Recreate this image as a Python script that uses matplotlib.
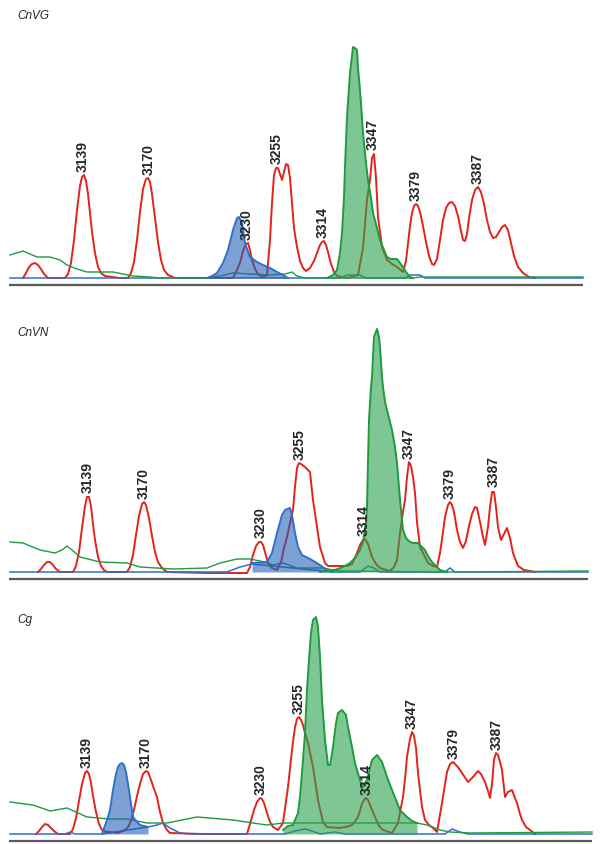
import numpy as np
import matplotlib
matplotlib.use("Agg")
import matplotlib.pyplot as plt

# ---------------- data (scan position, signal height) ----------------
allele_sizes = ["3139", "3170", "3230", "3255", "3314", "3347", "3379", "3387"]
panel_names = ["CnVG", "CnVN", "Cg"]

# ---- CnVG ----
cnvg_red = [(23,0),(26,5),(29,11),(32,14),(35,15),(38,13),(41,9),(44,4),(48,0),
    (65,0),(68,4),(71,15),(74,38),(77,68),(80,92),(82,101),(84,103),(86,97),(88,84),(90,65),(92,46),(95,25),(98,11),
    (101,5),(105,2),(112,1),(120,0),
    (128,0),(131,5),(134,16),(137,38),(140,66),(143,89),(146,99),(148,100),(150,96),(152,84),(155,60),(158,36),(161,18),
    (164,8),(168,3),(175,0),
    (205,0),(233,0),(237,8),(240,15),(243,27),(246,34),(248,35),(250,28),(252,18),(255,9),(258,4),(262,1),(267,3),
    (270,38),(272,75),(274,103),(276,110),(278,110),(280,104),(282,98),(284,106),(286,114),(288,113),(290,100),(292,75),
    (294,50),(297,31),(300,17),(303,10),(306,7),(310,10),(314,17),(317,25),(320,33),(322,36),(324,37),(326,33),(328,26),
    (331,14),(334,6),(337,2),(347,0),(358,3),(363,30),(367,78),(370,98),(372,120),(374,124),(376,100),(378,61),(382,31),
    (387,18),(392,14),(397,11),(403,6),(406,17),(408,35),(410,52),(412,65),(414,72),(416,74),(418,72),(420,66),(423,52),
    (426,36),(429,22),(432,14),(434,13),(437,19),(440,38),(443,58),(446,70),(449,75),(452,76),(455,72),(458,62),(461,47),
    (463,38),(465,37),(467,44),(469,60),(472,78),(475,88),(478,91),(481,86),(484,74),(487,58),(490,46),(493,40),(496,41),
    (499,46),(502,51),(505,53),(508,48),(511,35),(514,22),(518,11),(523,5),(529,1),(535,0)]
cnvg_blue_peak = [(207,0),(212,2),(217,5),(220,10),(223,15),(228,28),(233,48),(237,60),(239,61),(242,55),(245,35),
    (250,21),(257,16),(263,13),(270,10),(277,6),(283,3),(288,0)]
cnvg_green_peak = [(327,0),(333,3),(337,8),(340,25),(342,45),(344,80),(345,111),(347,161),(349,190),(350,205),(352,222),
    (353,231),(355,230),(357,228),(358,210),(360,188),(362,160),(363,145),(366,115),(368,98),(371,80),(373,65),(377,50),
    (380,38),(384,28),(387,21),(391,19),(397,19),(400,15),(403,11),(406,6),(410,1),(413,0)]
cnvg_green_line = [(10,23),(23,27),(37,21),(50,21),(60,18),(67,13),(77,9),(87,6),(100,6),(113,6),(123,4),(133,2),
    (150,1),(160,0),(205,0),(220,2),(233,5),(250,4),(270,3),(285,4),(292,6),(297,2),(305,0),(327,0),(413,0),(420,1),
    (583,1)]
cnvg_blue_line = [(10,0),(340,0),(347,3),(360,3),(366,0),(405,0),(410,3),(420,3),(425,0),(583,0)]
cnvg_label_x = [83, 149, 247, 277, 323, 373, 416, 478]
cnvg_label_h = [103, 100, 35, 111, 37, 125, 74, 91]

# ---- CnVN ----
cnvn_red = [(38,0),(41,3),(44,7),(47,10),(50,10),(53,7),(56,3),(60,0),
    (73,0),(76,6),(79,20),(82,44),(85,66),(87,75),(89,75),(91,66),(93,48),(95,32),(98,15),(101,6),(104,2),(107,0),
    (127,0),(130,5),(133,17),(136,37),(139,56),(142,68),(144,70),(146,67),(149,54),(152,36),(155,20),(158,10),(162,4),
    (167,0),
    (207,-1),(247,-1),(250,5),(253,17),(256,26),(259,30),(261,30),(263,27),(265,20),(268,9),(272,4),(277,2),(281,10),
    (284,24),(287,35),(290,49),(293,62),(295,85),(297,104),(299,109),(301,108),(305,105),(310,100),(313,72),(317,45),
    (320,25),(325,9),(328,6),(347,6),(352,8),(357,19),(360,27),(363,32),(365,33),(368,28),(372,15),(376,8),(380,4),
    (390,1),(394,5),(397,12),(400,39),(403,60),(405,72),(407,95),(409,110),(411,106),(413,95),(415,79),(417,50),(420,25),
    (423,19),(428,9),(433,6),(437,5),(440,19),(443,40),(445,55),(448,67),(450,70),(452,67),(454,60),(457,42),(460,30),
    (463,24),(466,31),(469,46),(472,58),(475,65),(477,64),(480,50),(483,35),(485,27),(488,45),(490,65),(492,80),(494,80),
    (496,65),(498,45),(501,32),(504,38),(507,44),(510,34),(513,19),(518,6),(524,2),(530,1),(535,0)]
cnvn_blue_peak = [(252,9),(267,10),(272,19),(277,39),(282,57),(285,62),(290,64),(292,57),(295,39),(298,25),(302,17),
    (310,13),(317,9),(327,2),(333,0)]
cnvn_green_peak = [(320,0),(335,2),(343,5),(350,9),(355,14),(360,22),(363,30),(366,50),(367,65),(368,110),(369,152),
    (371,185),(372,195),(374,235),(377,243),(379,235),(380,225),(382,195),(383,185),(385,170),(387,162),(390,150),
    (392,142),(395,125),(397,109),(400,72),(403,42),(406,34),(410,30),(414,29),(418,29),(422,25),(425,22),(428,16),
    (432,10),(436,6),(440,2),(447,0)]
cnvn_green_line = [(10,30),(23,29),(40,22),(55,19),(62,22),(67,26),(72,22),(80,15),(100,10),(127,9),(140,5),(173,3),
    (207,4),(220,9),(237,13),(250,13),(260,11),(267,9),(273,7),(283,9),(297,4),(323,4),(333,2),(345,1),(447,0),(460,0),
    (588,1)]
cnvn_blue_line = [(10,0),(227,0),(240,5),(252,8),(333,0),(360,0),(368,6),(374,4),(380,0),(445,0),(450,4),(455,0),(588,0)]
cnvn_label_x = [88, 144, 261, 300, 364, 409, 450, 494]
cnvn_label_h = [76, 70, 31, 109, 33, 110, 70, 82]

# ---- Cg ----
cg_red = [(36,0),(39,3),(42,7),(45,10),(48,9),(51,6),(54,3),(58,0),
    (70,0),(73,5),(76,16),(79,33),(82,50),(85,61),(87,63),(89,60),(91,51),(93,38),(96,22),(99,10),(102,4),(106,2),
    (110,2),(118,1),(125,4),(128,7),(131,13),(134,24),(137,38),(140,50),(143,60),(146,63),(148,62),(151,54),(154,45),
    (157,37),(160,22),(163,11),(167,4),(170,1),(203,0),
    (247,0),(250,10),(254,24),(257,32),(260,36),(262,35),(264,31),(267,21),(270,12),(273,7),(278,4),(283,11),(288,47),
    (292,84),(295,107),(297,115),(299,117),(301,114),(303,109),(305,101),(308,91),(313,67),(318,34),(323,12),(327,7),
    (340,6),(350,8),(353,10),(358,17),(362,30),(364,34),(366,36),(368,34),(370,29),(375,17),(379,8),(383,4),(392,1),
    (398,11),(403,37),(405,55),(407,77),(410,95),(412,102),(414,98),(416,86),(418,61),(422,27),(425,14),(429,9),(433,6),
    (437,2),(442,31),(447,62),(450,70),(453,72),(457,68),(460,64),(464,58),(468,52),(473,57),(478,63),(481,60),(485,52),
    (488,43),(490,36),(492,50),(494,74),(496,81),(498,79),(500,72),(502,64),(505,37),(508,42),(512,44),(515,36),(517,31),
    (520,20),(522,14),(526,7),(530,4),(535,0)]
cg_blue_peak = [(102,0),(107,14),(110,24),(113,44),(116,60),(118,67),(120,70),(122,71),(124,69),(126,62),(128,50),
    (130,37),(133,17),(137,12),(140,9),(148,7)]
cg_green_peak = [(283,4),(288,8),(293,9),(298,21),(300,37),(303,74),(305,101),(307,144),(309,174),(311,201),(313,214),
    (316,217),(318,207),(320,177),(322,134),(325,94),(328,69),(330,69),(331,74),(333,87),(336,111),(338,121),(342,124),
    (346,119),(348,107),(352,87),(355,71),(357,64),(362,47),(367,54),(372,74),(377,79),(382,72),(387,57),(392,44),
    (400,24),(407,17),(412,13),(417,11)]
cg_green_line = [(10,32),(33,29),(50,23),(67,26),(87,17),(110,15),(127,15),(147,11),(167,11),(197,17),(233,14),
    (253,11),(267,9),(283,11),(417,11),(427,9),(440,4),(450,2),(470,1),(592,2)]
cg_blue_line = [(10,0),(65,0),(70,2),(75,0),(102,0),(148,7),(157,9),(163,11),(170,6),(180,1),(190,0),(285,0),(295,3),
    (305,5),(312,3),(320,0),(335,2),(345,0),(445,0),(452,5),(460,2),(468,0),(592,0)]
cg_label_x = [87, 146, 261, 299, 367, 412, 454, 497]
cg_label_h = [63, 63, 36, 117, 36, 102, 72, 81]

panels = [
    (cnvg_red, cnvg_blue_peak, cnvg_green_peak, cnvg_green_line, cnvg_blue_line, cnvg_label_x, cnvg_label_h),
    (cnvn_red, cnvn_blue_peak, cnvn_green_peak, cnvn_green_line, cnvn_blue_line, cnvn_label_x, cnvn_label_h),
    (cg_red, cg_blue_peak, cg_green_peak, cg_green_line, cg_blue_line, cg_label_x, cg_label_h),
]

# ---------------- layout / style ----------------
W, H = 600, 844
baselines_px = [278, 572, 834]
axis_end_px = [583, 588, 592]
title_y_px = [16, 333, 620]

RED = "#e2231c"
GREEN_LINE = "#1f9a3f"
GREEN_FILL = (0.16, 0.63, 0.30)
BLUE_LINE = "#2f6fc9"
BLUE_FILL = (0.12, 0.36, 0.72)

fig = plt.figure(figsize=(W / 100, H / 100), dpi=100)
fig.patch.set_facecolor("white")

def xy(pts):
    a = np.array(pts, dtype=float)
    return a[:, 0], a[:, 1]

for i, (red, bpk, gpk, gln, bln, lx, lh) in enumerate(panels):
    b = baselines_px[i]
    bottom_px = b + 10
    ax = fig.add_axes([0, (H - bottom_px) / H, 1, 260 / H])
    ax.set_xlim(0, W)
    ax.set_ylim(-10, 250)
    ax.axis("off")

    # frame lines under the trace
    ax.hlines(-7, 9, axis_end_px[i], color="#5a5a5a", lw=1.6, zorder=1)
    ax.hlines(-10.5, 9, axis_end_px[i], color="#d9d9d9", lw=1.4, zorder=1)

    x, y = xy(red)
    ax.plot(x, y, color=RED, lw=1.4, zorder=3)
    x, y = xy(bln)
    ax.plot(x, y, color=BLUE_LINE, lw=1.1, zorder=4)
    x, y = xy(gln)
    ax.plot(x, y, color=GREEN_LINE, lw=1.0, zorder=4)

    x, y = xy(bpk)
    ax.fill_between(x, 0, y, color=BLUE_FILL, alpha=0.58, lw=0, zorder=5)
    ax.plot(x, y, color=BLUE_LINE, lw=1.4, zorder=6)
    x, y = xy(gpk)
    ax.fill_between(x, 0, y, color=GREEN_FILL, alpha=0.6, lw=0, zorder=5)
    ax.plot(x, y, color=GREEN_LINE, lw=1.4, zorder=6)

    for s, px, ph in zip(allele_sizes, lx, lh):
        ax.annotate(s, (px, ph), xytext=(0, 2.5), textcoords="offset points",
                    rotation=90, ha="center", va="bottom",
                    fontsize=10, fontweight="bold", color="#262626",
                    family=["Liberation Sans", "DejaVu Sans"], zorder=8)

    fig.text(17 / W, 1 - title_y_px[i] / H, panel_names[i], fontsize=8.5,
             style="italic", color="#222222", ha="left", va="center",
             family=["Liberation Sans", "DejaVu Sans"])

fig.savefig("out.png", dpi=100, facecolor="white")
